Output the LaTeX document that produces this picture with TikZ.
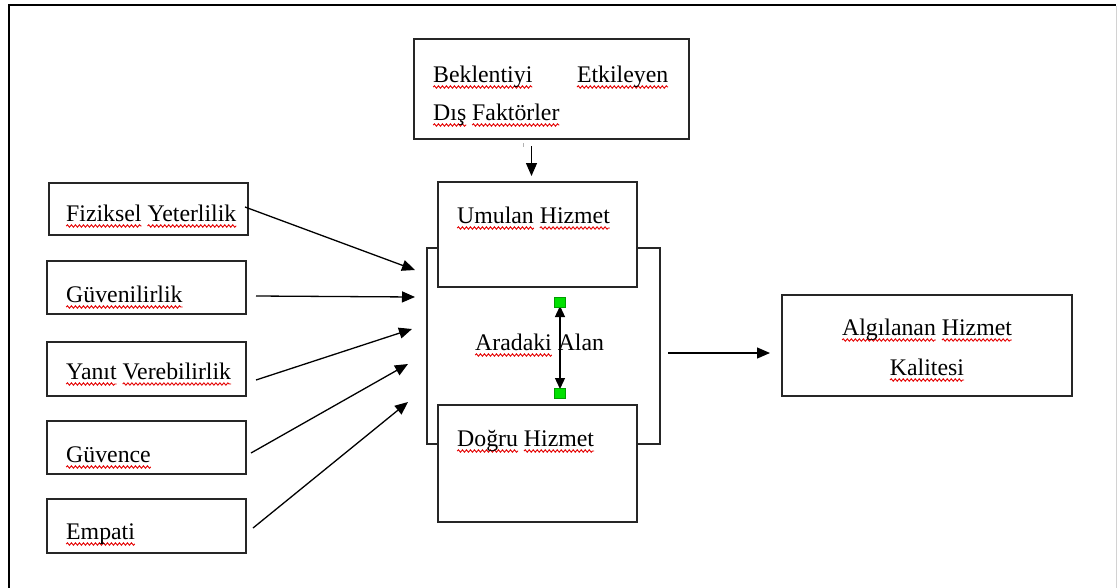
\documentclass[tikz,border=0pt]{standalone}
\usepackage{fontspec}
\setmainfont{Liberation Serif}
\usetikzlibrary{arrows.meta,decorations.pathmorphing}
\newsavebox\rwbox
\newcommand\rw[1]{\sbox\rwbox{#1}\rlap{\tikz[overlay,x=1pt,y=1pt]\draw[red!90!black, line width=0.9pt, decorate, decoration={snake, amplitude=1.2pt, segment length=4pt}] (0pt,-5pt) -- (\wd\rwbox,-5pt);}\usebox\rwbox}
\definecolor{dotgreen}{HTML}{00E000}
\begin{document}
\begin{tikzpicture}[x=1pt,y=-1pt,
  box/.style={draw=black!85, line width=1.4pt, fill=white, inner sep=0pt},
  lbl/.style={inner sep=0pt, anchor=base west, font=\fontsize{23.8}{28}\selectfont},
  clbl/.style={lbl, anchor=base},
  con/.style={line width=1.3pt, -{Triangle[length=13pt,width=11pt]}},
  dcon/.style={line width=1.3pt, {Triangle[length=11pt,width=10pt]}-{Triangle[length=11pt,width=10pt]}},
  handle/.style={fill=dotgreen, draw=dotgreen!70!black, line width=0.4pt, inner sep=0pt, minimum width=11pt, minimum height=10pt}]
\useasboundingbox (0,0) rectangle (1117,587);
% frame
\draw[line width=2pt] (9,590) -- (9,5) -- (1116,5);
\draw[gray!35, line width=1pt] (1116,6) -- (1116,590);
% boxes
\node[box, minimum width=275pt, minimum height=100pt] (top) at (551.5,89) {};
\node[box, minimum width=233pt, minimum height=196pt] (area) at (543.5,346) {};
\node[box, minimum width=199pt, minimum height=105pt] (umu) at (537.5,234.5) {};
\node[box, minimum width=199pt, minimum height=117pt] (dog) at (537.5,463.5) {};
\node[box, minimum width=290pt, minimum height=101pt] (alg) at (927,345.5) {};
\node[box, minimum width=199pt, minimum height=52pt] (fiz) at (148.5,209) {};
\node[box, minimum width=199pt, minimum height=53pt] (gvn) at (146.5,287.5) {};
\node[box, minimum width=199pt, minimum height=54pt] (yan) at (146.5,369) {};
\node[box, minimum width=199pt, minimum height=53pt] (gvc) at (146.5,447.5) {};
\node[box, minimum width=199pt, minimum height=54pt] (emp) at (146.5,526) {};
% texts
\node[lbl, text width=235pt] (t1) at (433,82) {\rw{Beklentiyi}\hfill\rw{Etkileyen}};
\node[lbl] (t2) at (433,120) {\rw{Dış} \rw{Faktörler}};
\node[lbl] (tumu) at (457,223) {\rw{Umulan} \rw{Hizmet}};
\node[lbl] (tdog) at (457,446) {\rw{Doğru} \rw{Hizmet}};
\node[lbl] (tara) at (475,350) {\rw{Aradaki} Alan};
\node[clbl] (talg1) at (927,335) {\rw{Algılanan} \rw{Hizmet}};
\node[clbl] (talg2) at (927,375) {\rw{Kalitesi}};
\node[lbl] (tfiz) at (66,221) {\rw{Fiziksel} \rw{Yeterlilik}};
\node[lbl] (tgvn) at (66,302) {\rw{Güvenilirlik}};
\node[lbl] (tyan) at (66,379) {\rw{Yanıt} \rw{Verebilirlik}};
\node[lbl] (tgvc) at (66,462) {\rw{Güvence}};
\node[lbl] (temp) at (66,539) {\rw{Empati}};
% connector ends
\coordinate (d0) at (531.5,146);
\coordinate (d1) at (531.5,176);
\coordinate (r0) at (668,353);
\coordinate (r1) at (770,353);
\coordinate (a1s) at (245,207);
\coordinate (a1e) at (415,270);
\coordinate (a2s) at (256,296);
\coordinate (a2e) at (415,297);
\coordinate (a3s) at (256,380);
\coordinate (a3e) at (412,329);
\coordinate (a4s) at (251,453);
\coordinate (a4e) at (408,364);
\coordinate (a5s) at (253,528);
\coordinate (a5e) at (408,402);
\coordinate (v0) at (560,306);
\coordinate (v1) at (560,389);
\draw[gray!60, line width=0.8pt] (523.5,143) -- (523.5,147);
\draw[con] (d0) -- (d1);
\draw[con] (r0) -- (r1);
\draw[con] (a1s) -- (a1e);
\draw[con] (a2s) -- (a2e);
\draw[con] (a3s) -- (a3e);
\draw[con] (a4s) -- (a4e);
\draw[con] (a5s) -- (a5e);
\draw[dcon] (v0) -- (v1);
\node[handle] (h0) at (560,302) {};
\node[handle] (h1) at (560,393) {};
\end{tikzpicture}
\end{document}
